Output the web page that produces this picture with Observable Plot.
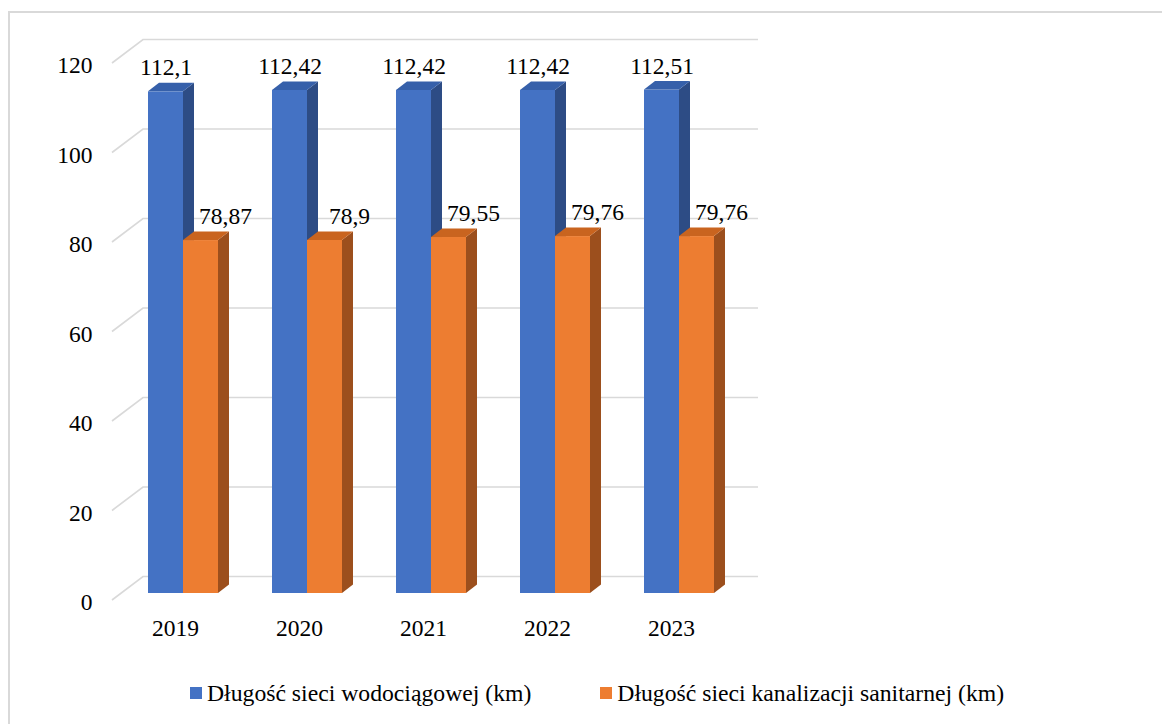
<!DOCTYPE html>
<html>
<head>
<meta charset="utf-8">
<script src="https://cdn.jsdelivr.net/npm/d3@7"></script>
<script src="https://cdn.jsdelivr.net/npm/@observablehq/plot@0.6"></script>
<style>
  html, body { margin: 0; padding: 0; background: #fff; overflow: hidden; width: 1162px; height: 724px; }
  #frame { position: absolute; left: 8px; top: 11px; width: 1200px; height: 800px;
           border-left: 2px solid #d9d9d9; border-top: 2px solid #d9d9d9; box-sizing: border-box; }
  #wrap { position: absolute; left: 0; top: 0; width: 1162px; }
  #legend { display: flex; align-items: center; height: 66px; padding-left: 190px;
            font-family: 'Liberation Serif', serif; font-size: 23.7px; color: #000; }
  .item { display: flex; align-items: center; margin-right: 69px; white-space: nowrap; }
  .sw { width: 12px; height: 12px; margin-right: 5px; }
  svg text { font-family: 'Liberation Serif', serif; }
</style>
</head>
<body>
<div id="frame"></div>
<div id="wrap"><div id="chart"></div><div id="legend"></div></div>
<script>
const years = ["2019", "2020", "2021", "2022", "2023"];
const water = [112.1, 112.42, 112.42, 112.42, 112.51];
const sewer = [78.87, 78.9, 79.55, 79.76, 79.76];
const yTicks = [0, 20, 40, 60, 80, 100, 120];
const seriesNames = ["Długość sieci wodociągowej (km)", "Długość sieci kanalizacji sanitarnej (km)"];
const colors = ["#4472C4", "#ED7D31"];
const sideColors = ["#2D4C85", "#9C4F1D"];
const topColors = ["#3660AA", "#C9641F"];

const rows = years.map((y, i) => ({year: y, water: water[i], sewer: sewer[i]}));
const fmt = v => String(v).replace(".", ",");
const font = "Liberation Serif";
const fs = 23.5;

const plot = Plot.plot({
  width: 1162, height: 660,
  marginLeft: 94, marginRight: 394, marginTop: 56, marginBottom: 67,
  style: {fontFamily: font, fontSize: fs + "px", color: "#000", background: "transparent", overflow: "visible"},
  x: {type: "band", domain: years, padding: 54 / 124},
  y: {domain: [0, 120]},
  marks: [
    Plot.axisY({ticks: yTicks, tickSize: 0, tickPadding: 2, dy: 9, fontSize: fs, fontFamily: font, label: null}),
    Plot.axisX({tickSize: 0, tickPadding: 26, dx: -8, fontSize: fs, fontFamily: font, label: null}),
    Plot.barY(rows, {x: "year", y: "water", fill: colors[0], insetRight: 35}),
    Plot.barY(rows, {x: "year", y: "sewer", fill: colors[1], insetLeft: 35}),
    Plot.text(rows, {x: "year", y: "water", text: d => fmt(d.water), dx: -17.5, dy: -24, fontSize: fs, fontFamily: font, fill: "#000"}),
    Plot.text(rows, {x: "year", y: "sewer", text: d => fmt(d.sewer), dx: 42, dy: -24, fontSize: fs, fontFamily: font, fill: "#000"})
  ]
});

document.getElementById("chart").appendChild(plot);

// 3D decorations derived from Plot's own scales and bar geometry
const yScale = plot.scale("y");
const barGroups = plot.querySelectorAll('g[aria-label="bar"]');
const frontX = 94 + 18, backX = 94 + 49, endX = (1162 - 394) - 10;
const grid = document.createElementNS("http://www.w3.org/2000/svg", "g");
plot.insertBefore(grid, barGroups[0]);
d3.select(grid).selectAll("polyline").data(yTicks).join("polyline")
  .attr("points", v => {
    const y = yScale.apply(v);
    return `${frontX},${y + 7} ${backX},${y - 16.5} ${endX},${y - 16.5}`;
  })
  .attr("fill", "none").attr("stroke", "#d9d9d9").attr("stroke-width", 1.6);

const ddx = 11, ddy = -8.5;
barGroups.forEach((g, si) => {
  const rects = Array.from(g.querySelectorAll("rect"));
  rects.forEach(r => {
    const x = +r.getAttribute("x"), y = +r.getAttribute("y");
    const w = +r.getAttribute("width"), h = +r.getAttribute("height");
    const side = document.createElementNS("http://www.w3.org/2000/svg", "polygon");
    side.setAttribute("points", `${x + w},${y} ${x + w + ddx},${y + ddy} ${x + w + ddx},${y + h + ddy} ${x + w},${y + h}`);
    side.setAttribute("fill", sideColors[si]);
    g.appendChild(side);
    const top = document.createElementNS("http://www.w3.org/2000/svg", "polygon");
    top.setAttribute("points", `${x},${y} ${x + w},${y} ${x + w + ddx},${y + ddy} ${x + ddx},${y + ddy}`);
    top.setAttribute("fill", topColors[si]);
    g.appendChild(top);
  });
});

const legend = d3.select("#legend");
seriesNames.forEach((name, i) => {
  const item = legend.append("div").attr("class", "item");
  item.append("div").attr("class", "sw").style("background", colors[i]);
  item.append("span").text(name);
});
</script>
</body>
</html>
